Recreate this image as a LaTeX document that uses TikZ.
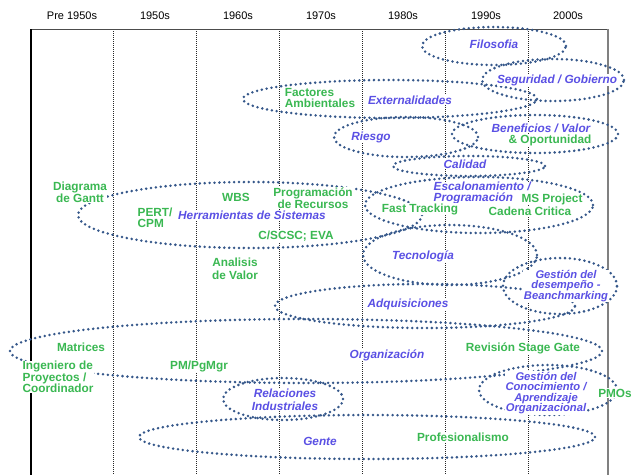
\documentclass[tikz,border=0pt]{standalone}
\usepackage{fontspec}
\setmainfont{Liberation Sans}
\definecolor{ebl}{HTML}{35578A}
\definecolor{tbl}{HTML}{5A50E4}
\definecolor{tgr}{HTML}{3AB852}
\begin{document}
\begin{tikzpicture}[x=1pt,y=-1pt,
  oval/.style={draw=ebl, line width=2.8pt, line cap=round, dash pattern=on 0pt off 4.9pt},
  sepline/.style={draw=black!85, line width=0.7pt, dash pattern=on 1pt off 1pt},
  hdr/.style={font=\fontsize{11}{12}\selectfont, text=black},
  bt/.style={font=\fontsize{11.8}{11}\selectfont\bfseries\itshape, text=tbl, fill=white, inner sep=0.5pt, align=center},
  gt/.style={font=\fontsize{11.8}{11}\selectfont\bfseries, text=tgr, fill=white, inner sep=0.5pt, align=center},
  btsm/.style={bt, font=\fontsize{11.2}{10.5}\selectfont\bfseries\itshape},
]
\useasboundingbox (0,0) rectangle (632,475);
% headers
\node[hdr] (h0) at (72,16) {Pre 1950s};
\node[hdr] (h1) at (155,16) {1950s};
\node[hdr] (h2) at (238,16) {1960s};
\node[hdr] (h3) at (321,16) {1970s};
\node[hdr] (h4) at (403,16) {1980s};
\node[hdr] (h5) at (486,16) {1990s};
\node[hdr] (h6) at (568,16) {2000s};
% frame
\foreach \x in {113,196,279,362,445,528} \draw[sepline] (\x,29) -- (\x,475);
\draw[line width=0.8pt, black!70] (31,29) -- (608,29);
\draw[line width=1.2pt, black] (31,29) -- (31,475);
\draw[line width=1.8pt, black!50] (608,29) -- (608,475);
% ellipses
\draw[oval] (494,46) ellipse [x radius=72pt, y radius=19pt];
\draw[oval] (553,80) ellipse [x radius=71pt, y radius=21pt];
\draw[oval] (390,99) ellipse [x radius=147pt, y radius=19pt];
\draw[oval] (406,137) ellipse [x radius=72pt, y radius=20pt];
\draw[oval] (535,134) ellipse [x radius=83pt, y radius=19pt];
\draw[oval] (469,166) ellipse [x radius=76pt, y radius=10pt];
\draw[oval] (250,215) ellipse [x radius=172pt, y radius=33pt];
\draw[oval] (479,205) ellipse [x radius=114pt, y radius=28pt];
\draw[oval] (450,255) ellipse [x radius=87pt, y radius=30pt];
\draw[oval] (560,286) ellipse [x radius=57pt, y radius=28pt];
\draw[oval] (425,306) ellipse [x radius=150pt, y radius=22pt];
\draw[oval] (306,351) ellipse [x radius=296pt, y radius=32pt];
\draw[oval] (283,399) ellipse [x radius=60pt, y radius=21pt];
\draw[oval] (548,390) ellipse [x radius=69pt, y radius=25pt];
\draw[oval] (367,437) ellipse [x radius=228pt, y radius=22pt];
% texts
\node[bt] (filo) at (494,44) {Filosofia};
\node[bt] (segu) at (557,80) {Seguridad / Gobierno};
\node[gt, align=left] (fact) at (320,98) {Factores\\Ambientales};
\node[bt] (exte) at (410,100) {Externalidades};
\node[bt] (ries) at (371,137) {Riesgo};
\node[bt] (bene) at (541,128) {Beneficios / Valor};
\node[gt] (opor) at (550,140) {\& Oportunidad};
\node[bt] (cali) at (465,164) {Calidad};
\node[gt] (gant) at (80,192) {Diagrama\\de Gantt};
\node[gt] (wbs) at (236,197) {WBS};
\node[gt] (prog) at (313,198) {Programación\\de Recursos};
\node[gt, align=left, anchor=west] (pert) at (137,218) {PERT/\\CPM};
\node[bt] (herr) at (252,215) {Herramientas de Sistemas};
\node[gt] (cscs) at (296,236) {C/SCSC; EVA};
\node[gt] (anal) at (235,269) {Analisis\\[1.5pt]de Valor};
\node[bt, align=left, anchor=west] (esca) at (433,193) {Escalonamiento /\\Programación};
\node[gt] (mspr) at (552,199) {MS Project};
\node[gt] (cade) at (530,211) {Cadena Critica};
\node[gt] (fast) at (420,209) {Fast Tracking};
\node[bt] (tecn) at (423,256) {Tecnología};
\node[btsm] (gdes) at (566,286) {Gestión del\\desempeño -\\Beanchmarking};
\node[bt] (adqu) at (408,304) {Adquisiciones};
\node[gt] (matr) at (81,347) {Matrices};
\node[gt, align=left, anchor=west] (inge) at (22,377) {Ingeniero de\\Proyectos /\\Coordinador};
\node[gt] (pmpg) at (199,366) {PM/PgMgr};
\node[bt] (orga) at (387,355) {Organización};
\node[gt] (revi) at (523,348) {Revisión Stage Gate};
\node[bt] (rela) at (285,400) {Relaciones\\[1.5pt]Industriales};
\node[btsm] (gcon) at (546,393) {Gestión del\\Conocimiento /\\Aprendizaje\\Organizacional};
\node[gt] (pmos) at (615,393) {PMOs};
\node[bt] (gent) at (320,441) {Gente};
\node[gt] (prof) at (463,437) {Profesionalismo};
\end{tikzpicture}
\end{document}
